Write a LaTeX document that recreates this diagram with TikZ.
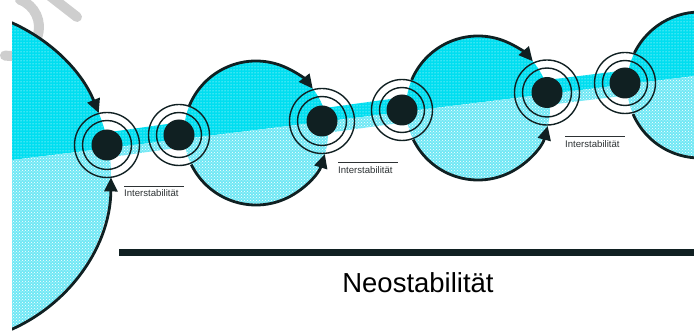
\documentclass[tikz,border=0pt]{standalone}
\usepackage{fontspec}
\setmainfont{Liberation Sans}
\usetikzlibrary{arrows.meta,patterns,calc}

\definecolor{ink}{RGB}{16,32,34}
\definecolor{cyanA}{RGB}{0,222,240}
\definecolor{cyanB}{RGB}{112,232,245}
\definecolor{smudge}{RGB}{206,206,206}
\definecolor{lbltext}{RGB}{45,50,52}

% every coloured zone: the four large circles and the three bands between paired nodes
\newcommand\zonefill[1]{%
  \begin{scope}
    \clip (12,10) rectangle (400,-340);
    \fill[#1] (c1) circle[radius=168];
  \end{scope}
  \fill[#1] (c2) circle[radius=72];
  \fill[#1] (c3) circle[radius=72];
  \fill[#1] (c4) circle[radius=73];
  \fill[#1] ($(p1)!12.5pt!90:(p2)$) -- ($(p2)!12.5pt!-90:(p1)$)
            -- ($(p2)!12.5pt!90:(p1)$) -- ($(p1)!12.5pt!-90:(p2)$) -- cycle;
  \fill[#1] ($(p3)!12.5pt!90:(p4)$) -- ($(p4)!12.5pt!-90:(p3)$)
            -- ($(p4)!12.5pt!90:(p3)$) -- ($(p3)!12.5pt!-90:(p4)$) -- cycle;
  \fill[#1] ($(p5)!12.5pt!90:(p6)$) -- ($(p6)!12.5pt!-90:(p5)$)
            -- ($(p6)!12.5pt!90:(p5)$) -- ($(p5)!12.5pt!-90:(p6)$) -- cycle;
}

\tikzset{
  flow/.style={draw=ink, line width=2.8pt, -{Triangle[length=14pt,width=13pt]}},
  rim/.style={draw=ink, line width=2.8pt},
  ring/.style={draw=ink, line width=1.4pt},
  dot/.style={circle, fill=ink, minimum size=31pt, inner sep=0pt},
  lbl/.style={font=\fontsize{9.6}{11}\selectfont, text=lbltext, inner sep=0pt, anchor=base west},
  overbar/.style={draw=lbltext, line width=0.9pt},
  title/.style={font=\fontsize{27.5}{32}\selectfont, text=black, inner sep=0pt, anchor=base},
  bar/.style={draw=ink, line width=7pt},
  smudgeline/.style={draw=smudge, line width=10pt, line cap=round},
}

\begin{document}
\begin{tikzpicture}[x=1pt,y=1pt]
\useasboundingbox (0,0) rectangle (694,-331);
\clip (0,0) rectangle (694,-331);

% centres of the large circles
\coordinate (c1) at (-57,-176);
\coordinate (c2) at (256,-133);
\coordinate (c3) at (478,-108);
\coordinate (c4) at (700,-85);

% node positions
\coordinate (p1) at (107,-145);
\coordinate (p2) at (179,-135);
\coordinate (p3) at (322,-121);
\coordinate (p4) at (402,-110);
\coordinate (p5) at (547,-92.5);
\coordinate (p6) at (625,-83);

% grey stroke in the top left corner
\draw[smudgeline] (10,-27) ++(70:29) arc[start angle=70, end angle=-100, radius=29];
\draw[smudgeline] (50,4) -- (77,-17);

% upper half: saturated cyan
\begin{scope}
  \clip (0,-161.5) -- (694,-76.1) -- (694,10) -- (0,10) -- cycle;
  \zonefill{cyanA}
  \zonefill{pattern=dots, pattern color=white}
\end{scope}
% lower half: pale cyan
\begin{scope}
  \clip (0,-161.5) -- (694,-76.1) -- (694,-340) -- (0,-340) -- cycle;
  \zonefill{cyanB}
  \zonefill{pattern=crosshatch dots, pattern color=white}
\end{scope}

% outlines of the circles with the arrows into the nodes
\begin{scope}
  \clip (12,10) rectangle (400,-340);
  \draw[flow] (c1) ++(70:168) arc[start angle=70, end angle=22, radius=168];
  \draw[flow] (c1) ++(-72:168) arc[start angle=-72, end angle=-0.5, radius=168];
\end{scope}
\draw[flow] (c2) ++(158:72) arc[start angle=158, end angle=38, radius=72];
\draw[flow] (c2) ++(-154:72) arc[start angle=-154, end angle=-17, radius=72];
\draw[flow] (c3) ++(157:72) arc[start angle=157, end angle=40.5, radius=72];
\draw[flow] (c3) ++(-154:72) arc[start angle=-154, end angle=-14.5, radius=72];
\draw[rim] (c4) ++(80:73) arc[start angle=80, end angle=154, radius=73];
\draw[rim] (c4) ++(203.5:73) arc[start angle=203.5, end angle=280, radius=73];

% nodes: black core with two rings
\foreach \p/\ro/\ri in {p1/32.5/24.5, p2/30.5/22.5, p3/32.5/24.5, p4/30.5/22.5, p5/32.5/24.5, p6/30.5/22.5}{
  \draw[ring] (\p) circle[radius=\ro];
  \draw[ring] (\p) circle[radius=\ri];
}
\node[dot] (n1) at (p1) {};
\node[dot] (n2) at (p2) {};
\node[dot] (n3) at (p3) {};
\node[dot] (n4) at (p4) {};
\node[dot] (n5) at (p5) {};
\node[dot] (n6) at (p6) {};

% labels of the gaps
\node[lbl] (l1) at (124,-197) {Interstabilität};
\draw[overbar] (l1.base west) ++(0,11) -- ++(59.5,0);
\node[lbl] (l2) at (338,-173.5) {Interstabilität};
\draw[overbar] (l2.base west) ++(0,11.5) -- ++(60,0);
\node[lbl] (l3) at (565,-147.5) {Interstabilität};
\draw[overbar] (l3.base west) ++(0,11.5) -- ++(59.5,0);

% base line and title
\coordinate (b1) at (119,-252.5);
\coordinate (b2) at (694,-252.5);
\draw[bar] (b1) -- (b2);
\node[title] (t) at (418,-293) {Neostabilität};
\end{tikzpicture}
\end{document}
